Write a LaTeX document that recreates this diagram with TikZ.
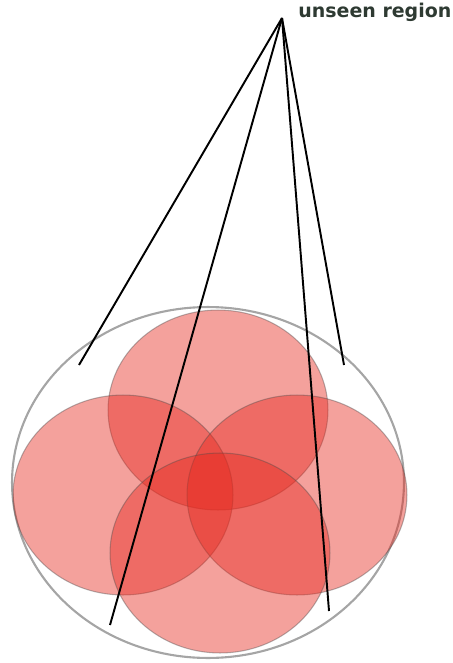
\documentclass[tikz,border=0pt]{standalone}
\usepackage{fontspec}
\usepackage{xcolor}
\usetikzlibrary{shapes.geometric}
\newfontfamily\labelfont{DejaVu Sans}
\definecolor{diskcolor}{RGB}{230,40,30}
\definecolor{labelcolor}{RGB}{46,58,50}
\definecolor{rimcolor}{RGB}{165,165,165}

\begin{document}
\begin{tikzpicture}[
    x=0.02cm, y=-0.02cm,
    disk/.style={ellipse, draw=black!70, draw opacity=0.4, line width=0.6pt,
                 fill=diskcolor, fill opacity=0.44, inner sep=0pt,
                 minimum width=4.4cm, minimum height=4cm},
    rim/.style={ellipse, draw=rimcolor, line width=1.2pt, inner sep=0pt,
                minimum width=7.84cm, minimum height=7.02cm},
    pointer/.style={line width=1.1pt, black},
    every node/.style={font=\labelfont\bfseries\fontsize{10.8}{12}\selectfont}
  ]
  \useasboundingbox (0,0) rectangle (453,663);

  % outer region and the four disks
  \node[rim] (outer) at (208,482.5) {};
  \node[disk] (top)    at (218,410) {};
  \node[disk] (left)   at (123,495) {};
  \node[disk] (right)  at (297,495) {};
  \node[disk] (bottom) at (220,553) {};

  % label
  \node[anchor=base west, text=labelcolor, inner sep=0pt] (lbl) at (298,17)
       {unseen region};
  \coordinate (apex) at (282,18);
  \coordinate (pA) at (79,365);
  \coordinate (pB) at (110,625);
  \coordinate (pC) at (329,611);
  \coordinate (pD) at (344,365);

  % pointers
  \draw[pointer] (apex) -- (pA);
  \draw[pointer] (apex) -- (pB);
  \draw[pointer] (apex) -- (pC);
  \draw[pointer] (apex) -- (pD);
\end{tikzpicture}
\end{document}
